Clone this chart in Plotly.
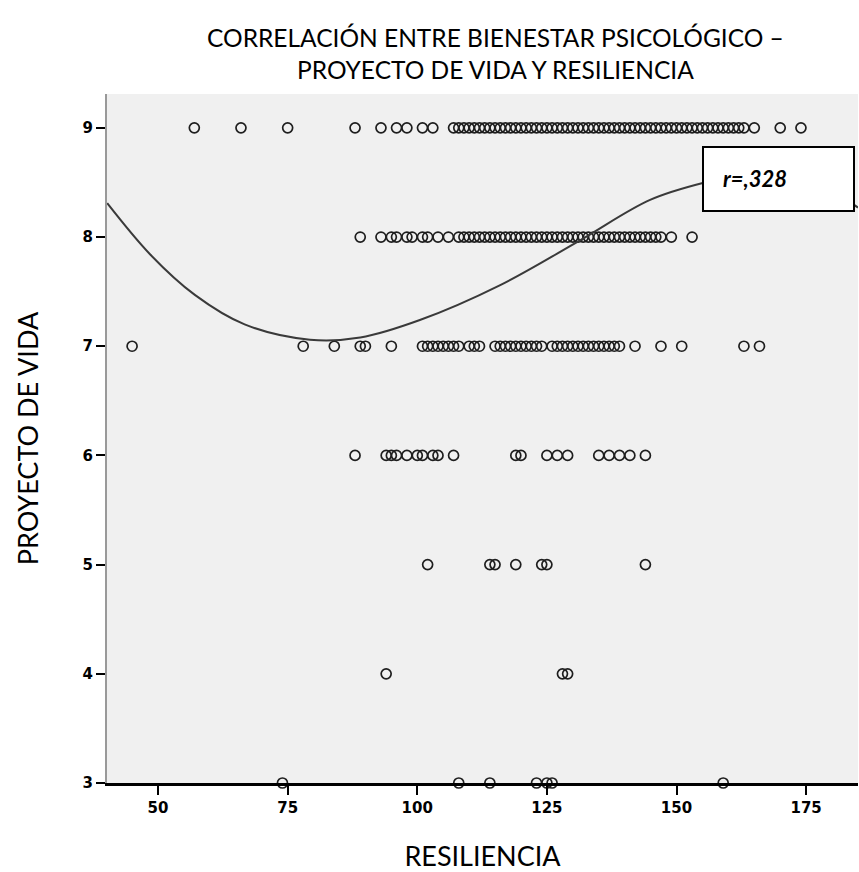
import plotly.graph_objects as go

# ---- data ----
x_ticks = [50, 75, 100, 125, 150, 175]
y_ticks = [3, 4, 5, 6, 7, 8, 9]

res_y9 = [57, 66, 75, 88, 93, 96, 98, 101, 103,
          107, 108, 109, 110, 111, 112, 113, 114, 115, 116, 117, 118, 119, 120,
          121, 122, 123, 124, 125, 126, 127, 128, 129, 130, 131, 132, 133, 134,
          135, 136, 137, 138, 139, 140, 141, 142, 143, 144, 145, 146, 147, 148,
          149, 150, 151, 152, 153, 154, 155, 156, 157, 158, 159, 160, 161, 162,
          163, 165, 170, 174]
res_y8 = [89, 93, 95, 96, 98, 99, 101, 102, 104, 106, 108, 109, 110, 111, 112,
          113, 114, 115, 116, 117, 118, 119, 120, 121, 122, 123, 124, 125, 126,
          127, 128, 129, 130, 131, 132, 133, 134, 135, 136, 137, 138, 139, 140,
          141, 142, 143, 144, 145, 146, 147, 149, 153]
res_y7 = [45, 78, 84, 89, 90, 95, 101, 102, 103, 104, 105, 106, 107, 108, 110,
          111, 112, 115, 116, 117, 118, 119, 120, 121, 122, 123, 124, 126, 127,
          128, 129, 130, 131, 132, 133, 134, 135, 136, 137, 138, 139, 142, 147,
          151, 163, 166]
res_y6 = [88, 94, 95, 96, 98, 100, 101, 103, 104, 107, 119, 120, 125, 127, 129,
          135, 137, 139, 141, 144]
res_y5 = [102, 114, 115, 119, 124, 125, 144]
res_y4 = [94, 128, 129]
res_y3 = [74, 108, 114, 123, 125, 126, 159]

rows = {9: res_y9, 8: res_y8, 7: res_y7, 6: res_y6, 5: res_y5, 4: res_y4, 3: res_y3}

# fitted curve
curve_x = [40.2, 48.5, 57.1, 66.7, 79.3, 89.0, 100.5, 116.0, 131.4, 144.9,
           155.5, 162.0, 170.0, 178.0, 185.0]
curve_y = [8.31, 7.84, 7.47, 7.20, 7.06, 7.08, 7.24, 7.56, 7.97, 8.34,
           8.50, 8.56, 8.57, 8.47, 8.27]

r_label = "r=,328"

xs, ys = [], []
for yv, vals in rows.items():
    xs += vals
    ys += [yv] * len(vals)

W, H = 859, 872
L, R, T, B = 107, 1, 94, 89
pw = W - L - R
ph = H - T - B

def px(xp):
    return (xp - L) / pw

def py(yp):
    return (H - B - yp) / ph

fig = go.Figure()
fig.add_trace(go.Scatter(
    x=xs, y=ys, mode="markers",
    marker=dict(symbol="circle-open", size=10, color="#1e1e1e",
                line=dict(width=1.7, color="#1e1e1e")),
    cliponaxis=False, showlegend=False))
fig.add_trace(go.Scatter(
    x=curve_x, y=curve_y, mode="lines", line_shape="spline",
    line=dict(color="#3a3a3a", width=2), showlegend=False))

fig.update_layout(
    width=W, height=H,
    margin=dict(l=L, r=R, t=T, b=B),
    paper_bgcolor="white", plot_bgcolor="#f0f0f0",
    font=dict(family="Lato", color="black"),
    showlegend=False,
)
fig.update_xaxes(
    range=[40.16, 185.0], tickvals=x_ticks, ticktext=[str(v) for v in x_ticks],
    showgrid=False, zeroline=False, showline=True, linecolor="black", linewidth=3,
    ticks="outside", ticklen=9, tickwidth=2, tickcolor="black",
    tickfont=dict(family="DejaVu Sans", size=15, color="black", weight="bold"),
    title=dict(text="RESILIENCIA", font=dict(family="Lato", size=27), standoff=33),
)
fig.update_yaxes(
    range=[3, 9.31], tickvals=y_ticks, ticktext=[str(v) for v in y_ticks],
    showgrid=False, zeroline=False, showline=True, linecolor="#999999", linewidth=2,
    ticks="outside", ticklen=9, tickwidth=2, tickcolor="black",
    tickfont=dict(family="DejaVu Sans", size=15, color="black", weight="bold"),
    title=dict(text="PROYECTO DE VIDA", font=dict(family="Lato", size=27), standoff=36),
)

# title
fig.add_annotation(
    xref="paper", yref="paper", x=px(495), y=py(53), xanchor="center", yanchor="middle",
    text="CORRELACIÓN ENTRE BIENESTAR PSICOLÓGICO –<br>PROYECTO DE VIDA Y RESILIENCIA",
    showarrow=False, font=dict(family="Lato", size=24.5, color="black"), align="center")

# r box
fig.add_shape(type="rect", xref="paper", yref="paper",
              x0=px(703), x1=px(854), y0=py(211), y1=py(147),
              fillcolor="white", line=dict(color="black", width=2), layer="above")
fig.add_annotation(
    xref="paper", yref="paper", x=px(721), y=py(179), xanchor="left", yanchor="middle",
    text="<b><i>" + r_label + "</i></b>", showarrow=False,
    font=dict(family="Lato", size=22, color="black"))

fig.write_html("out.html", config={"displayModeBar": False},
               post_script="document.body.style.margin='0';document.body.style.overflow='hidden';")
